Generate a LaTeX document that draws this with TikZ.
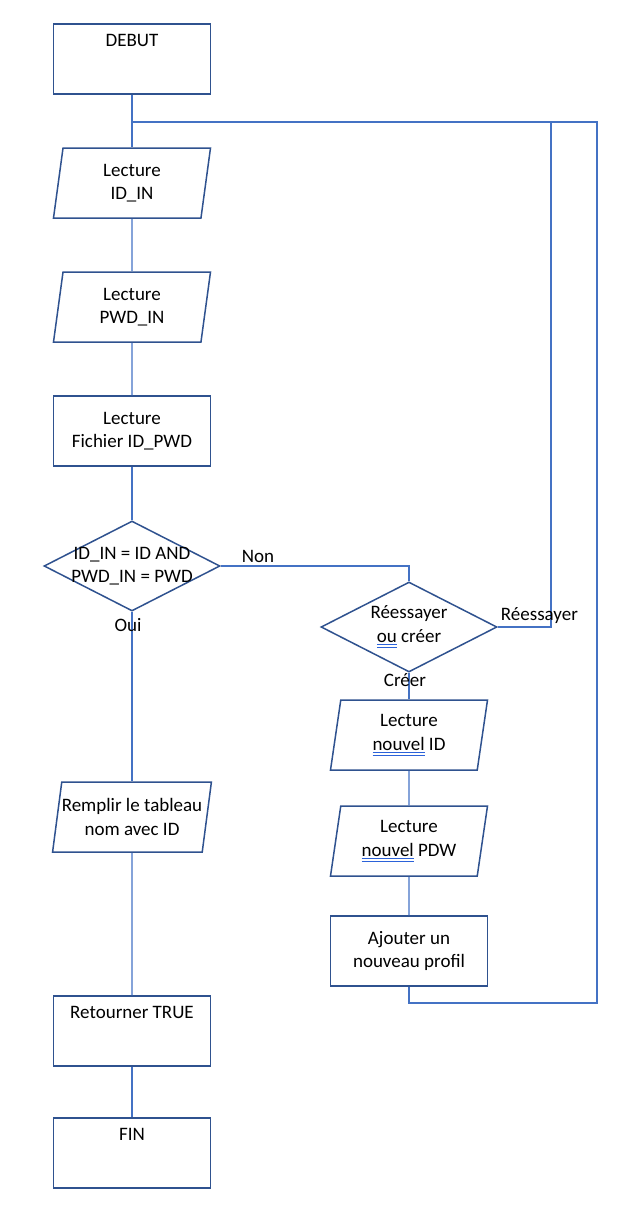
\documentclass[tikz,border=0pt]{standalone}
\usepackage{fontspec}
\setmainfont{Carlito}
\usetikzlibrary{shapes.geometric,positioning}
\definecolor{bord}{HTML}{2F528F}
\definecolor{lien}{HTML}{4472C4}
\definecolor{souligne}{HTML}{2B62D9}
\newcommand{\zc}[1]{\makebox[0pt]{#1}}
\newcommand{\faute}[1]{\setbox0\hbox{#1}\rlap{\color{souligne}\rule[-2.5pt]{\wd0}{0.9pt}\hskip-\wd0\rule[-5.5pt]{\wd0}{0.9pt}}#1}
\begin{document}
\begin{tikzpicture}[x=1pt, y=-1pt, node distance=124pt,
  every node/.style = {font=\fontsize{19}{23.5}\selectfont},
  boite/.style = {draw=bord, line width=1.5pt, rectangle, minimum width=157pt, minimum height=70pt, align=center, inner sep=0pt},
  haut/.style = {boite, text height=22pt, text depth=48pt},
  lecture/.style = {draw=bord, line width=1.5pt, trapezium, trapezium left angle=76, trapezium right angle=104, trapezium stretches body, minimum width=157pt, minimum height=70pt, align=center, inner sep=0pt},
  decision/.style = {draw=bord, line width=1.5pt, diamond, aspect=1.96, minimum width=176pt, minimum height=90pt, align=center, inner sep=0pt},
  lien/.style = {draw=lien, line width=1.2pt},
  etiq/.style = {inner sep=1pt}]
\useasboundingbox (0,0) rectangle (620,1210);
% colonne principale
\node[haut] (debut) at (132,59) {DEBUT};
\node[lecture] (lid) [below of=debut] {Lecture\\ID\_IN};
\node[lecture] (lpwd) [below of=lid] {Lecture\\PWD\_IN};
\node[boite] (fich) [below of=lpwd] {Lecture\\Fichier ID\_PWD};
\node[decision] (test) [below of=fich, node distance=135pt] {\zc{ID\_IN = ID AND}\\\zc{PWD\_IN = PWD}};
\node[lecture] (remp) [below of=test, node distance=251pt] {Remplir le tableau\\nom avec ID};
\node[haut] (ret) [below of=remp, node distance=214pt] {Retourner TRUE};
\node[haut] (fin) [below of=ret, node distance=122pt] {FIN};
% branche Non
\node[decision] (choix) at (409,627) {\zc{Réessayer}\\\zc{\faute{ou} créer}};
\node[lecture] (nid) [below of=choix, node distance=108pt] {Lecture\\\faute{nouvel} ID};
\node[lecture] (npdw) [below of=nid, node distance=106pt] {Lecture\\\faute{nouvel} PDW};
\node[boite] (ajout) [below of=npdw, node distance=110pt] {Ajouter un\\nouveau profil};
\coordinate (retour) at (132,122);
\coordinate (boucle1) at (551,122);
\coordinate (boucle2) at (597,122);
\coordinate (bas) at (409,1003);
% liens
\draw[lien] (debut) -- (lid);
\draw[lien] (lid) -- (lpwd);
\draw[lien] (lpwd) -- (fich);
\draw[lien] (fich) -- (test);
\draw[lien] (test) -- (remp);
\draw[lien] (remp) -- (ret);
\draw[lien] (ret) -- (fin);
\draw[lien] (test.east) -| (choix.north);
\draw[lien] (choix) -- (nid);
\draw[lien] (nid) -- (npdw);
\draw[lien] (npdw) -- (ajout);
\draw[lien] (choix.east) -| (boucle1);
\draw[lien] (ajout.south) -- (bas) -| (boucle2) -- (retour);
% etiquettes
\node[etiq, anchor=south west] (non) at ([xshift=20pt, yshift=2pt]test.east) {Non};
\node[etiq, anchor=north] (oui) at ([xshift=-4pt, yshift=-5pt]test.south) {Oui};
\node[etiq, anchor=south west] (ress) at ([xshift=2pt, yshift=2.5pt]choix.east) {Réessayer};
\node[etiq, anchor=north] (creer) at ([xshift=-4pt]choix.south) {Créer};
\end{tikzpicture}
\end{document}
